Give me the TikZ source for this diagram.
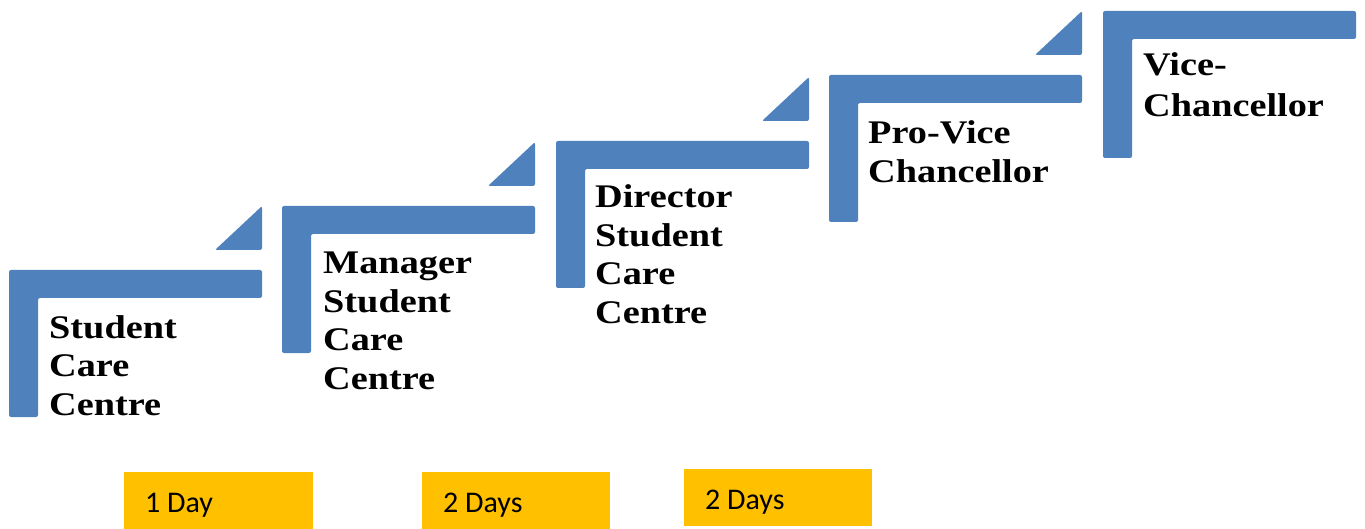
\documentclass[tikz,border=0pt]{standalone}
\usepackage{fontspec}
\newfontfamily\stepfont[FakeStretch=1.16]{Liberation Serif}
\newfontfamily\dayfont{Carlito}
\definecolor{stepblue}{HTML}{4F81BD}
\definecolor{daygold}{HTML}{FFC000}
\newcommand{\steplines}[1]{\begin{tabular}[t]{@{}l@{}}#1\end{tabular}}
\begin{document}
\begin{tikzpicture}[x=1pt,y=-1pt,
  stepshape/.style={fill=stepblue, draw=none, rounded corners=2pt},
  daybox/.style={fill=daygold, draw=none},
  steplabel/.style={anchor=base west, inner sep=0pt, font=\stepfont\bfseries\fontsize{33}{38.5}\selectfont},
  daylabel/.style={anchor=base west, inner sep=0pt, font=\dayfont\fontsize{30}{36}\selectfont}]
\useasboundingbox (0,0) rectangle (1365,529);
% L-shaped steps
\foreach \x/\y in {9/270, 282/206, 556/141, 829/75, 1103/11}{
  \fill[stepshape] (\x,\y) -- ++(253,0) -- ++(0,28) -- ++(-224,0) -- ++(0,119) -- ++(-29,0) -- cycle;
}
% triangles
\foreach \x/\y in {9/270, 282/206, 556/141, 829/75}{
  \fill[stepshape] (\x+253,\y-64) -- (\x+253,\y-20) -- (\x+206,\y-20) -- cycle;
}
% step labels
\node[steplabel] (s1) at (49,338) {\steplines{Student\\Care\\Centre}};
\node[steplabel] (s2) at (323,274) {\steplines{Manager\\Student\\Care\\Centre}};
\node[steplabel] (s3) at (595,208) {\steplines{Director\\Student\\Care\\Centre}};
\node[steplabel] (s4) at (868,144) {\steplines{Pro-Vice\\Chancellor}};
\node[steplabel] (s5) at (1143,76) {\steplines{Vice-\\[2.5pt]Chancellor}};
% day boxes
\fill[daybox] (124,472) rectangle (313,530);
\fill[daybox] (422,472) rectangle (610,530);
\fill[daybox] (684,469) rectangle (872,526);
\node[daylabel] (d1) at (145,512) {1 Day};
\node[daylabel] (d2) at (443,512) {2 Days};
\node[daylabel] (d3) at (705,509) {2 Days};
\end{tikzpicture}
\end{document}
